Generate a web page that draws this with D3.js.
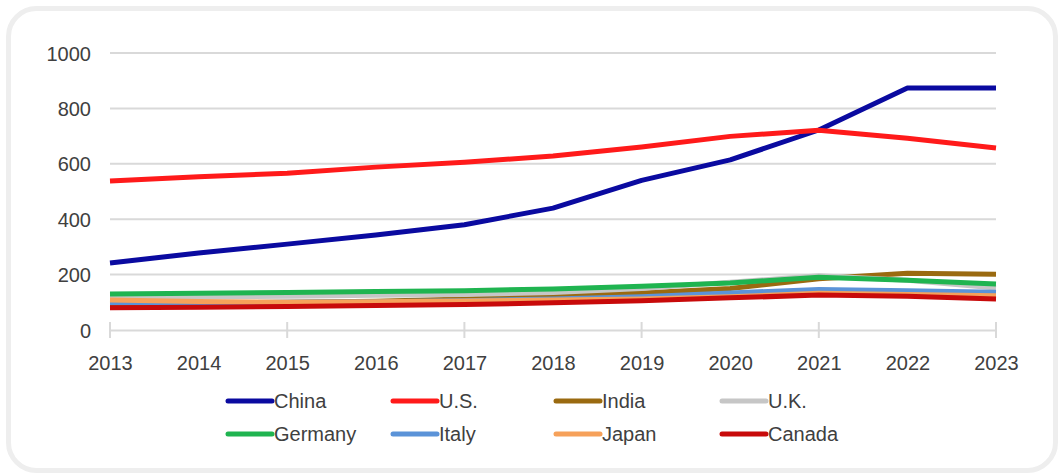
<!DOCTYPE html>
<html>
<head>
<meta charset="utf-8">
<script src="https://cdn.jsdelivr.net/npm/d3@7"></script>
<style>
  body { margin: 0; background: #fff; }
  svg text { font-family: "Liberation Sans", Arial, sans-serif; fill: #404040; }
  .line { fill: none; stroke-width: 5; stroke-linejoin: round; stroke-linecap: butt; }
</style>
</head>
<body>
<div class="center"></div>
<script>
// chart data
var years = [2013, 2014, 2015, 2016, 2017, 2018, 2019, 2020, 2021, 2022, 2023];
var yTicks = [0, 200, 400, 600, 800, 1000];

var china   = [242, 278, 310, 343, 380, 440, 540, 614, 722, 874, 874];
var us      = [538, 553, 566, 588, 606, 628, 661, 699, 721, 692, 657];
var india   = [95, 98, 100, 104, 112, 125, 134, 150, 185, 205, 201];
var uk      = [118, 120, 122, 125, 128, 135, 150, 172, 196, 180, 152];
var germany = [130, 133, 135, 139, 142, 148, 158, 170, 190, 180, 166];
var italy   = [98, 99, 100, 102, 106, 112, 120, 134, 146, 142, 136];
var japan   = [108, 103, 100, 102, 105, 108, 112, 120, 133, 128, 124];
var canada  = [80, 82, 85, 88, 92, 98, 106, 116, 126, 122, 112];

var seriesNames = ["China", "U.S.", "India", "U.K.", "Germany", "Italy", "Japan", "Canada"];
var seriesValues = [china, us, india, uk, germany, italy, japan, canada];
var seriesColors = ["#0a0aa0", "#ff1a1a", "#9a6a10", "#c6c6c6", "#1fb450", "#5b93d8", "#f6a15a", "#c80a0a"];

var width = 1058, height = 475;
var margin = {top: 53, left: 110, right: 62, bottom: 145};

var svg = d3.select(".center").append("svg")
    .attr("width", width)
    .attr("height", height);

// outer card frame
svg.append("rect")
    .attr("x", 8.5).attr("y", 8.5)
    .attr("width", 1047).attr("height", 462)
    .attr("rx", 28)
    .attr("fill", "#fff")
    .attr("stroke", "#eeeeee")
    .attr("stroke-width", 5);

var x = d3.scaleLinear().domain([2013, 2023]).range([margin.left, width - margin.right]);
var y = d3.scaleLinear().domain([0, 1000]).range([330, margin.top]);

// gridlines
svg.append("g")
    .selectAll("line")
    .data(yTicks.slice(1))
    .enter().append("line")
    .attr("x1", x(2013)).attr("x2", x(2023))
    .attr("y1", function(d) { return y(d); })
    .attr("y2", function(d) { return y(d); })
    .attr("stroke", "#d9d9d9")
    .attr("stroke-width", 2);

// y axis labels
var yAxis = svg.append("g")
    .attr("transform", "translate(" + (x(2013) - 16) + ",0)")
    .call(d3.axisLeft(y).tickValues(yTicks).tickSize(0).tickFormat(d3.format("d")));
yAxis.select(".domain").remove();
yAxis.selectAll("text").attr("font-size", 20).attr("dx", 0).attr("dy", "0.35em");

// x axis
var xAxis = svg.append("g")
    .attr("transform", "translate(0," + y(0) + ")")
    .call(d3.axisBottom(x).tickValues(years).tickSize(0).tickFormat(d3.format("d")));
xAxis.select(".domain").attr("stroke", "#d9d9d9").attr("stroke-width", 2);
xAxis.selectAll("text").attr("font-size", 20).attr("dy", "1.85em");

// cross tick marks every other year
svg.append("g")
    .selectAll("line")
    .data(years.filter(function(d, i) { return i % 2 === 0; }))
    .enter().append("line")
    .attr("x1", function(d) { return x(d); })
    .attr("x2", function(d) { return x(d); })
    .attr("y1", y(0) - 8).attr("y2", y(0) + 8)
    .attr("stroke", "#d9d9d9")
    .attr("stroke-width", 2);

// lines
var valueline = d3.line()
    .x(function(d, i) { return x(years[i]); })
    .y(function(d) { return y(d); });

svg.append("g")
    .selectAll("path")
    .data(seriesValues)
    .enter().append("path")
    .attr("class", "line")
    .attr("stroke", function(d, i) { return seriesColors[i]; })
    .attr("d", valueline);

// legend
var legendX = [228, 393, 556, 722];
var legendY = [401, 434];
var legend = svg.append("g")
    .selectAll("g")
    .data(seriesNames)
    .enter().append("g")
    .attr("transform", function(d, i) {
      return "translate(" + legendX[i % 4] + "," + legendY[Math.floor(i / 4)] + ")";
    });

legend.append("line")
    .attr("x1", 0).attr("x2", 44)
    .attr("stroke", function(d, i) { return seriesColors[i]; })
    .attr("stroke-width", 5)
    .attr("stroke-linecap", "round");

legend.append("text")
    .attr("x", 46)
    .attr("dy", "0.35em")
    .attr("font-size", 20)
    .text(function(d) { return d; });
</script>
</body>
</html>
